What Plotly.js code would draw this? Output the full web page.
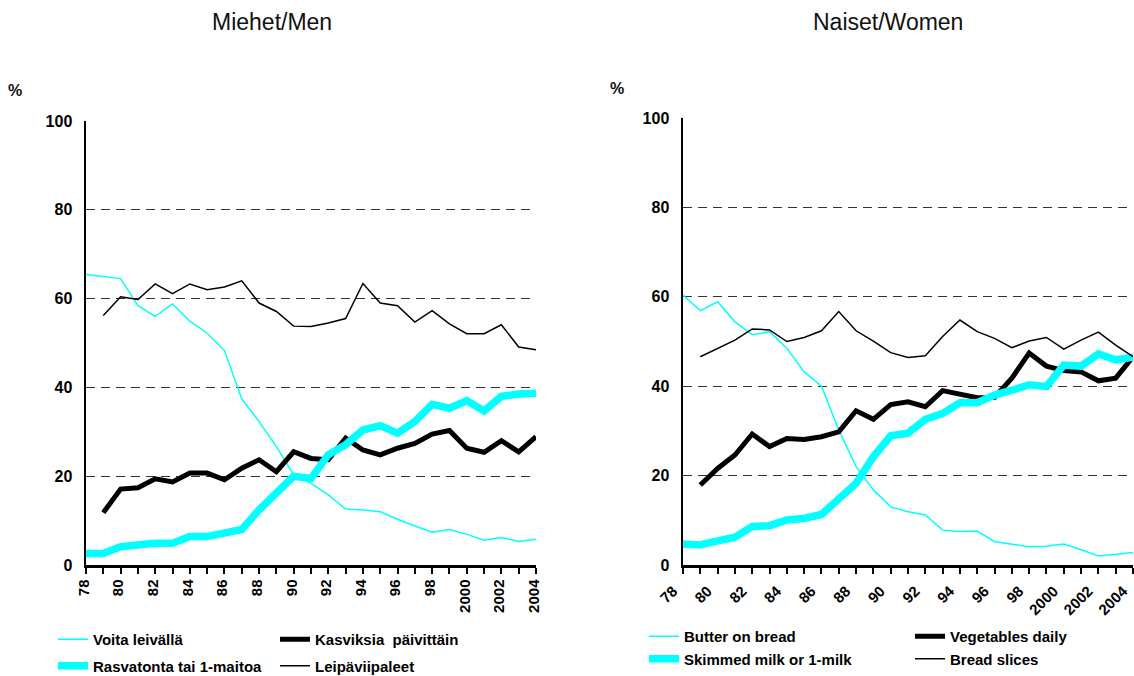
<!DOCTYPE html>
<html>
<head>
<meta charset="utf-8">
<script src="https://cdn.plot.ly/plotly-3.0.1.min.js"></script>
<style>
  html, body { margin: 0; padding: 0; background: #fff; }
  #chart { width: 1134px; height: 676px; }
</style>
</head>
<body>
<div id="chart"></div>
<script>
// years on the x axis
var years = [1978, 1979, 1980, 1981, 1982, 1983, 1984, 1985, 1986, 1987, 1988, 1989, 1990,
    1991, 1992, 1993, 1994, 1995, 1996, 1997, 1998, 1999, 2000, 2001, 2002, 2003, 2004];
var tickYears = [1978, 1980, 1982, 1984, 1986, 1988, 1990, 1992, 1994, 1996, 1998, 2000, 2002, 2004];
var tickLabels = ['78', '80', '82', '84', '86', '88', '90', '92', '94', '96', '98', '2000', '2002', '2004'];

// Miehet / Men (%)
var menButter = [65.4, 64.9, 64.5, 58.4, 56.0, 58.8, 54.9, 52.2, 48.3, 37.4, 32.3, 26.7, 20.3,
    18.4, 15.8, 12.6, 12.4, 12.0, 10.3, 8.8, 7.4, 8.0, 6.9, 5.6, 6.2, 5.3, 5.8];
var menVeg = [null, 11.8, 17.1, 17.4, 19.4, 18.7, 20.7, 20.7, 19.2, 21.8, 23.7, 21.0, 25.5,
    24.0, 23.7, 28.6, 25.9, 24.8, 26.3, 27.4, 29.5, 30.3, 26.3, 25.4, 28.0, 25.5, 28.9];
var menMilk = [2.6, 2.6, 4.1, 4.7, 4.9, 4.9, 6.4, 6.4, 7.4, 8.0, 12.4, 16.2, 20.0,
    19.5, 24.8, 27.1, 30.4, 31.4, 29.7, 32.3, 36.2, 35.3, 37.0, 34.7, 38.0, 38.5, 38.7];
var menBread = [null, 56.2, 60.4, 59.8, 63.3, 61.1, 63.3, 62.0, 62.6, 64.0, 59.0, 57.1, 53.8,
    53.7, 54.5, 55.5, 63.4, 59.0, 58.4, 54.7, 57.3, 54.3, 52.1, 52.1, 54.1, 49.1, 48.5];

// Naiset / Women (%)
var womenButter = [60.4, 56.9, 58.9, 54.4, 51.5, 52.2, 48.5, 43.2, 40.0, 30.2, 22.0, 16.8, 13.0,
    11.9, 11.2, 7.8, 7.5, 7.6, 5.2, 4.6, 4.1, 4.2, 4.7, 3.4, 2.0, 2.4, 2.8];
var womenVeg = [null, 17.9, 21.6, 24.6, 29.3, 26.5, 28.3, 28.1, 28.7, 29.8, 34.5, 32.6, 35.9,
    36.5, 35.4, 39.0, 38.2, 37.4, 37.5, 41.8, 47.4, 44.5, 43.5, 43.2, 41.2, 41.8, 46.6];
var womenMilk = [4.7, 4.5, 5.4, 6.2, 8.6, 8.8, 10.1, 10.4, 11.3, 14.9, 18.3, 24.2, 28.9,
    29.5, 32.6, 33.9, 36.3, 36.3, 38.0, 39.1, 40.3, 39.9, 44.7, 44.5, 47.2, 45.9, 46.5];
var womenBread = [null, 46.6, 48.5, 50.3, 52.8, 52.6, 50.0, 50.9, 52.4, 56.7, 52.4, 50.1, 47.5,
    46.4, 46.8, 51.1, 54.8, 52.2, 50.7, 48.6, 50.1, 50.9, 48.3, 50.3, 52.1, 49.2, 46.6];

var FONT = 'Liberation Sans, Arial, Helvetica, sans-serif';
var CYAN = '#00FFFF';

function line(name, y, xa, ya, color, width, legend) {
    return {
        x: years, y: y, name: name, type: 'scatter', mode: 'lines',
        xaxis: xa, yaxis: ya, legend: legend, legendgroup: name,
        connectgaps: false,
        line: { color: color, width: width }
    };
}

var data = [
    line('Voita leivällä', menButter, 'x', 'y', CYAN, 1.5, 'legend'),
    line('Kasviksia\u00a0 päivittäin', menVeg, 'x', 'y', 'black', 5, 'legend2'),
    line('Rasvatonta tai 1-maitoa', menMilk, 'x', 'y', CYAN, 7.5, 'legend'),
    line('Leipäviipaleet', menBread, 'x', 'y', 'black', 1.5, 'legend2'),
    line('Butter on bread', womenButter, 'x2', 'y2', CYAN, 1.5, 'legend3'),
    line('Vegetables daily', womenVeg, 'x2', 'y2', 'black', 5, 'legend4'),
    line('Skimmed milk or 1-milk', womenMilk, 'x2', 'y2', CYAN, 7.5, 'legend3'),
    line('Bread slices', womenBread, 'x2', 'y2', 'black', 1.5, 'legend4')
];

function xAxis(domain, angle, shift, standoff) {
    return {
        domain: domain, range: [1978, 2004], fixedrange: true,
        showline: true, linecolor: 'black', linewidth: 2.5,
        showgrid: false, zeroline: false,
        tickmode: 'array', tickvals: tickYears, ticktext: tickLabels,
        ticks: 'outside', ticklen: 6, tickwidth: 2, tickcolor: 'black',
        tickangle: angle, ticklabeloverflow: 'allow',
        ticklabelshift: shift, ticklabelstandoff: standoff,
        tickfont: { family: FONT, size: 15, weight: 'bold', color: 'black' },
        minor: { tickmode: 'linear', tick0: 1978, dtick: 1, ticks: 'outside',
                 ticklen: 6, tickwidth: 2, tickcolor: 'black', showgrid: false }
    };
}

function yAxis(domain, anchor) {
    return {
        domain: domain, range: [0, 100], anchor: anchor, fixedrange: true,
        tickvals: [0, 20, 40, 60, 80, 100],
        showline: true, linecolor: 'black', linewidth: 2.5,
        ticks: '', zeroline: false,
        showgrid: true, gridcolor: '#333', gridwidth: 1, griddash: '9px,6px',
        ticklabelstandoff: 8,
        tickfont: { family: FONT, size: 16, weight: 'bold', color: 'black' }
    };
}

function legendBox(xpx, ypx, gap) {
    return {
        x: xpx / 1134, y: 1 - ypx / 676, xanchor: 'left', yanchor: 'top',
        bgcolor: 'rgba(0,0,0,0)', borderwidth: 0, tracegroupgap: gap,
        font: { family: FONT, size: 15, weight: 'bold', color: 'black' }
    };
}

function label(text, xpx, ypx, size, weight) {
    return {
        text: text, x: xpx / 1134, y: 1 - ypx / 676, xref: 'paper', yref: 'paper',
        xanchor: 'center', yanchor: 'middle', showarrow: false,
        font: { family: FONT, size: size, weight: weight, color: '#111' }
    };
}

var layout = {
    width: 1134, height: 676,
    margin: { l: 0, r: 0, t: 0, b: 0, autoexpand: false },
    paper_bgcolor: 'white', plot_bgcolor: 'white',
    showlegend: true,
    xaxis: xAxis([86 / 1134, 536 / 1134], -90, -2, 0),
    yaxis: yAxis([111 / 676, 555 / 676], 'x'),
    xaxis2: xAxis([683 / 1134, 1133 / 1134], -45, -10, 3),
    yaxis2: yAxis([111 / 676, 558 / 676], 'x2'),
    legend: legendBox(53, 623, 4),
    legend2: legendBox(275, 623, 4),
    legend3: legendBox(644, 620, 0),
    legend4: legendBox(910, 620, 0),
    annotations: [
        label('Miehet/Men', 272, 22, 23, 'normal'),
        label('Naiset/Women', 888, 22, 23, 'normal'),
        label('%', 15, 90, 16, 'bold'),
        label('%', 617, 88, 16, 'bold')
    ]
};

Plotly.newPlot('chart', data, layout, { displayModeBar: false, staticPlot: true });
</script>
</body>
</html>
